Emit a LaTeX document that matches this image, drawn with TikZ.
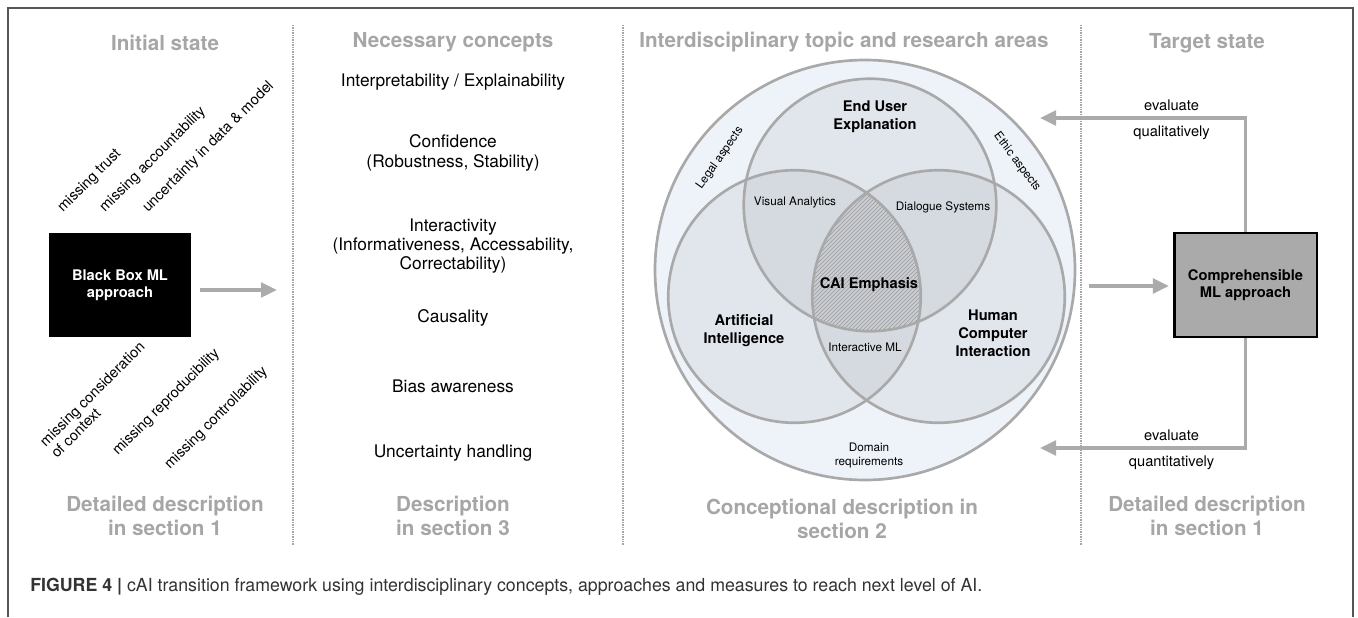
\documentclass[tikz,border=0pt]{standalone}
\usepackage{fontspec}
\setmainfont{TeX Gyre Heros}
\usepackage{graphicx}
\usetikzlibrary{arrows.meta,positioning,patterns}
\definecolor{headgray}{HTML}{A6A6A6}
\definecolor{pilgray}{HTML}{ABABAB}
\definecolor{ringgray}{HTML}{A9A9A9}
\definecolor{outerblue}{HTML}{EEF3FA}
\definecolor{framegray}{HTML}{555555}
\definecolor{boxgray}{HTML}{AAAAAA}
\definecolor{capgray}{HTML}{333333}
\tikzset{
    >={Triangle[length=12pt,width=11pt]},
    kopf/.style={
           font=\bfseries\fontsize{15.5}{18}\selectfont,
           text=headgray,
           align=center},
    konzept/.style={
           font=\fontsize{13}{14.5}\selectfont,
           align=center},
    schraeg/.style={
           rotate=45,
           anchor=base west,
           inner sep=0pt,
           font=\fontsize{11}{12}\selectfont,
           align=left},
    kasten/.style={
           minimum width=107pt,
           minimum height=78pt,
           font=\bfseries\fontsize{11}{13}\selectfont,
           align=center},
    kreis/.style={
           draw=ringgray,
           line width=2pt},
    feld/.style={
           font=\bfseries\fontsize{11}{13.5}\selectfont,
           align=center},
    klein/.style={
           font=\fontsize{8.8}{10.5}\selectfont,
           align=center},
    bewert/.style={
           font=\fontsize{11}{13}\selectfont},
    pil/.style={
           ->,
           draw=pilgray,
           line width=2.5pt},
    trenner/.style={
           draw=headgray,
           line width=1.5pt,
           dash pattern=on 1pt off 0.8pt}
}

\begin{document}
\begin{tikzpicture}[x=0.75pt, y=-0.75pt]
    \useasboundingbox (0,0) rectangle (1358,617);
    % frame
    \draw[framegray, line width=1.5pt] (8,617) -- (8,8) -- (1353,8) -- (1353,617);

    % headings
    \node[kopf] (h1) at (165,43) {Initial state};
    \node[kopf] (h2) at (453,42) {Necessary concepts};
    \node[kopf] (h3) at (844,42) {Interdisciplinary topic and research areas};
    \node[kopf] (h4) at (1207,43) {Target state};
    \node[kopf] (f1) at (165,516) {Detailed description\\in section 1};
    \node[kopf] (f2) at (453,516) {Description\\in section 3};
    \node[kopf] (f3) at (842,519) {Conceptional description in\\section 2};
    \node[kopf] (f4) at (1207,516) {Detailed description\\in section 1};

    % initial state
    \node[kasten, fill=black, text=white] (bbox) at (120,285) {Black Box ML\\approach};
    \node[schraeg] (m1) at (63,213) {missing trust};
    \node[schraeg] (m2) at (105,213) {missing accountability};
    \node[schraeg] (m3) at (148,213) {uncertainty in data \& model};
    \node[schraeg] (m4) at (57,459) {missing consideration\\of context};
    \node[schraeg] (m5) at (118,456) {missing reproducibility};
    \node[schraeg] (m6) at (170,470) {missing controllability};
    \coordinate (linksziel) at (277,290);
    \draw[pil] (bbox.east |- linksziel) ++(8,0) -- (linksziel);

    % concepts
    \node[konzept] (k1) at (453,82) {Interpretability / Explainability};
    \node[konzept] (k2) at (453,153) {Confidence\\(Robustness, Stability)};
    \node[konzept] (k3) at (453,246) {Interactivity\\(Informativeness, Accessability,\\Correctability)};
    \node[konzept] (k4) at (453,318) {Causality};
    \node[konzept] (k5) at (453,386) {Bias awareness};
    \node[konzept] (k6) at (453,453) {Uncertainty handling};

    % venn
    \coordinate (mOuter) at (865,270);
    \coordinate (mTop) at (870,205);
    \coordinate (mLeft) at (794.5,296.5);
    \coordinate (mRight) at (938.5,296.5);
    \fill[outerblue] (mOuter) circle[radius=157.5pt];
    \foreach \m in {mTop,mLeft,mRight}
        \fill[black, fill opacity=0.05] (\m) circle[radius=94.7pt];
    \begin{scope}
        \clip (mTop) circle[radius=94.7pt];
        \clip (mLeft) circle[radius=94.7pt];
        \fill[pattern=north east lines, pattern color=gray!80] (mRight) circle[radius=94.7pt];
    \end{scope}
    \draw[kreis] (mOuter) circle[radius=157.5pt];
    \foreach \m in {mTop,mLeft,mRight}
        \draw[kreis] (\m) circle[radius=94.7pt];

    \node[feld] (eue) at (875,117) {End User\\Explanation};
    \node[klein, rotate=55] (legal) at (720,158) {Legal aspects};
    \node[klein, rotate=-53] (ethic) at (1017,162) {Ethic aspects};
    \node[klein] (va) at (795,203) {Visual Analytics};
    \node[klein] (ds) at (943,207) {Dialogue Systems};
    \node[feld] (cai) at (869,285) {CAI Emphasis};
    \node[feld] (ai) at (744,331) {Artificial\\Intelligence};
    \node[klein] (iml) at (865,347) {Interactive ML};
    \node[feld] (hci) at (993,333) {Human\\Computer\\Interaction};
    \node[klein] (dom) at (869,455) {Domain\\requirements};

    % target state
    \node[kasten, fill=boxgray, draw=black, line width=2pt] (cbox) at (1245.5,285) {Comprehensible\\ML approach};
    \coordinate (rechtsstart) at (1089,286);
    \coordinate (qualziel) at (1040,118);
    \coordinate (quantziel) at (1040,448);
    \draw[pil, shorten >=3pt] (rechtsstart) -- (cbox.west |- rechtsstart);
    \draw[pil] (cbox.north) |- (qualziel)
        node[bewert, pos=0.68, above=1pt] {evaluate}
        node[bewert, pos=0.68, below=1pt] {qualitatively};
    \draw[pil] (cbox.south) |- (quantziel)
        node[bewert, pos=0.68, above=1pt] {evaluate}
        node[bewert, pos=0.68, below=1pt] {quantitatively};

    % separators
    \foreach \x in {293,623,1081}
        \draw[trenner] (\x,25) -- (\x,545);

    % caption
    \node[anchor=base west, inner sep=0pt, text=capgray] (cap) at (30,591)
        {\resizebox{714pt}{\height}{\fontsize{13.5}{15}\selectfont\textbf{FIGURE 4 |} cAI transition framework using interdisciplinary concepts, approaches and measures to reach next level of AI.}};
\end{tikzpicture}
\end{document}
